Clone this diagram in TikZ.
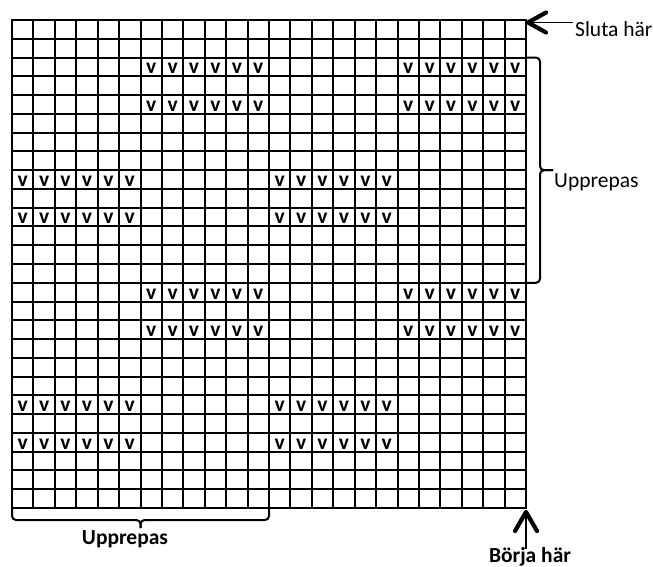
\documentclass[tikz,border=0pt]{standalone}
\usepackage{fontspec}
\setmainfont{Carlito}
\begin{document}
\begin{tikzpicture}[x=1pt,y=-1pt,
  gridline/.style={line width=2pt},
  outerline/.style={line width=2.6pt},
  vmark/.style={font=\fontsize{21.5}{24}\selectfont\bfseries, inner sep=0pt, anchor=base},
  bracestyle/.style={line width=2pt, rounded corners=4pt},
  chevron/.style={line width=4.2pt, line cap=round, line join=round},
  arrowline/.style={line width=1.8pt},
  lbl/.style={font=\fontsize{21.5}{24}\selectfont, inner sep=0pt, anchor=base west},
  lblbold/.style={font=\fontsize{21.5}{24}\selectfont\bfseries, inner sep=0pt, anchor=base}]
\useasboundingbox (0,0) rectangle (653,566);
% grid
\foreach \i in {1,...,23} \draw[gridline] ({12+\i*514/24},20) -- ({12+\i*514/24},508);
\foreach \j in {1,...,25} \draw[gridline] (12,{20+\j*488/26}) -- (526,{20+\j*488/26});
\draw[outerline] (12,20) rectangle (526,508);
\coordinate (TR) at (526,20);
\coordinate (BR) at (526,508);
% v marks
\foreach \r in {3,5,15,17}
  \foreach \c in {7,8,9,10,11,12,19,20,21,22,23,24}
    \node[vmark] (v\r-\c) at ({12+(\c-0.5)*514/24},{20+\r*488/26-2.5}) {v};
\foreach \r in {9,11,21,23}
  \foreach \c in {1,2,3,4,5,6,13,14,15,16,17,18}
    \node[vmark] (v\r-\c) at ({12+(\c-0.5)*514/24},{20+\r*488/26-2.5}) {v};
% right brace
\coordinate (rbTop) at (526,{20+2*488/26});
\coordinate (rbBot) at (526,{20+14*488/26});
\coordinate (rbTip) at (553,{20+8*488/26});
\draw[bracestyle] (rbTop) -| (540,{20+8*488/26}) -- (rbTip);
\draw[bracestyle] (rbTip) -- (540,{20+8*488/26}) |- (rbBot);
\node[lbl] (uprRight) at (554,187) {Upprepas};
% bottom brace
\coordinate (bbL) at (12,508);
\coordinate (bbR) at ({12+12*514/24},508);
\coordinate (bbTip) at ({12+6*514/24},528);
\draw[bracestyle] (bbL) |- ({12+6*514/24},520) -- (bbTip);
\draw[bracestyle] (bbTip) -- ({12+6*514/24},520) -| (bbR);
\node[lblbold] (uprBottom) at (125,544) {Upprepas};
% Sluta här
\node[lbl] (sluta) at (575,36.7) {Sluta här};
\coordinate (stip) at (528,22.5);
\draw[arrowline] (stip) -- ([xshift=-2pt]sluta.west |- stip);
\draw[chevron] ([shift={(18,-10)}]stip) -- (stip) -- ([shift={(18,10)}]stip);
% Börja här
\node[lblbold] (borja) at (530,562) {Börja här};
\coordinate (btip) at (526,512);
\draw[arrowline] (btip) -- (526,549);
\draw[chevron] ([shift={(-11,19)}]btip) -- (btip) -- ([shift={(11,19)}]btip);
\end{tikzpicture}
\end{document}
